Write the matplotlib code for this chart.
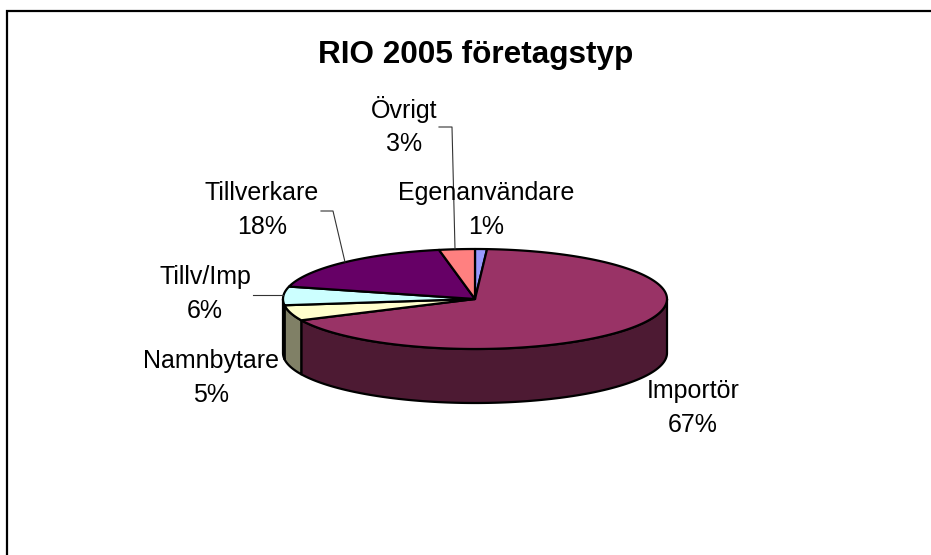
"""RIO 2005 company types as a tilted Excel-style 3D pie."""

import numpy as np
import matplotlib
matplotlib.use("Agg")
import matplotlib.pyplot as plt
from matplotlib.patches import Polygon, Rectangle

plt.rcParams["font.family"] = ["Liberation Sans", "DejaVu Sans"]

categories = ["Egenanvändare", "Importör", "Namnbytare", "Tillv/Imp", "Tillverkare", "Övrigt"]
shares = [1, 67, 5, 6, 18, 3]
top_colors = ["#9999FF", "#993366", "#FFFFCC", "#CCFFFF", "#660066", "#FF8080"]
side_colors = ["#4D4D80", "#4D1A33", "#808066", "#668080", "#330033", "#804040"]

# Pie geometry in image pixels
CX, CY = 475, 299
RX, RY = 192, 50
DEPTH = 54

W, H = 931, 555
fig = plt.figure(figsize=(W / 100, H / 100), dpi=100)
ax = fig.add_axes([0, 0, 1, 1])
ax.set_xlim(0, W)
ax.set_ylim(H, 0)
ax.axis("off")

ax.add_patch(Rectangle((7, 11), 1000, 1000, fc="white", ec="black", lw=1.6))


def rim(start, stop):
    # Angles run clockwise from 12 o'clock, in fractions of the circle.
    t = np.linspace(start, stop, max(int((stop - start) * 360), 2)) * 2 * np.pi
    return CX + RX * np.sin(t), CY - RY * np.cos(t)


edges = np.cumsum([0] + shares) / sum(shares)

# Side wall: only the front half of the rim (a quarter to three quarters) shows.
for start, stop, side in zip(edges[:-1], edges[1:], side_colors):
    lo, hi = max(start, 0.25), min(stop, 0.75)
    if lo >= hi:
        continue
    x, y = rim(lo, hi)
    pts = np.r_[np.c_[x, y], np.c_[x[::-1], y[::-1] + DEPTH]]
    ax.add_patch(Polygon(pts, fc=side, ec="black", lw=1.6, joinstyle="round"))

for start, stop, top in zip(edges[:-1], edges[1:], top_colors):
    x, y = rim(start, stop)
    pts = np.r_[[[CX, CY]], np.c_[x, y]]
    ax.add_patch(Polygon(pts, fc=top, ec="black", lw=1.6, joinstyle="round"))

# Leader lines, in image pixels
leaders = [
    ([439, 452, 455], [127, 127, 249]),
    ([321, 333, 345], [211, 211, 262]),
    ([253, 283], [295, 295]),
]
for lx, ly in leaders:
    ax.plot(lx, ly, color="#333333", lw=0.8)

# Label anchors, in image pixels
label_pos = {
    "Egenanvändare": (486, 210),
    "Importör": (693, 408),
    "Namnbytare": (211, 378),
    "Tillv/Imp": (205, 294),
    "Tillverkare": (262, 210),
    "Övrigt": (404, 126),
}
for name, share in zip(categories, shares):
    px, py = label_pos[name]
    ax.text(px, py, f"{name}\n{share}%", ha="center", va="center",
            fontsize=18, linespacing=1.5, color="black")

ax.text(476, 55, "RIO 2005 företagstyp", ha="center", va="center",
        fontsize=22.7, fontweight="bold", color="black")

fig.savefig("out.png", dpi=100)
